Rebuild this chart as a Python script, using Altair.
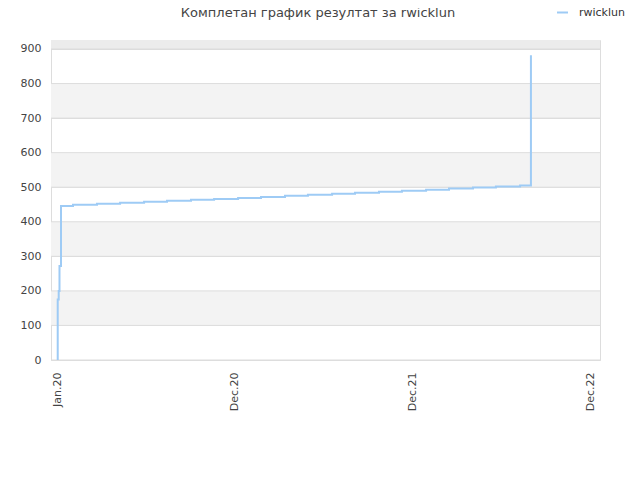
import altair as alt
import pandas as pd

# x positions in "label interval" units (0 = Jan.20, 1 = Dec.20, 2 = Dec.21, 3 = Dec.22)
x_pos = [0.004, 0.004, 0.0096, 0.014, 0.0225, 0.090, 0.225, 0.355, 0.490, 0.619,
         0.754, 0.884, 1.019, 1.148, 1.283, 1.412, 1.548, 1.677, 1.812, 1.941,
         2.077, 2.206, 2.341, 2.470, 2.606, 2.667, 2.667, 2.667, 2.667, 2.667, 2.667]
scores = [0, 175, 200, 272, 446, 449, 452, 455, 458, 461,
          464, 466, 469, 472, 475, 478, 481, 484, 487, 490,
          493, 496, 499, 502, 505, 562, 619, 682, 744, 812, 882]
series_name = "rwicklun"

tick_values = [0, 1, 2, 3]
tick_labels = ["Jan.20", "Dec.20", "Dec.21", "Dec.22"]
y_ticks = [0, 100, 200, 300, 400, 500, 600, 700, 800, 900]

band_lo = [100, 300, 500, 700, 900]
band_hi = [200, 400, 600, 800, 1000]
band_shade = ["a", "a", "a", "a", "b"]

title_text = "Комплетан график резултат за rwicklun"

df = pd.DataFrame({"x": x_pos, "y": scores, "i": list(range(len(x_pos))),
                   "s": [series_name] * len(x_pos)})
bands = pd.DataFrame({"y": band_lo, "y2": band_hi, "c": band_shade})
titles = pd.DataFrame({"t": [title_text]})

x_scale = alt.Scale(domain=[-0.0338, 3.0557], nice=False, zero=False)
y_scale = alt.Scale(domain=[0, 926], nice=False)

label_expr = " : ".join(
    f"datum.value == {v} ? '{l}'" for v, l in zip(tick_values, tick_labels)
) + " : ''"

x_axis = alt.Axis(values=tick_values, labelExpr=label_expr, labelAngle=270,
                  title=None, grid=False, ticks=False, domain=False,
                  labelFontSize=11, labelColor="#444", labelPadding=12,
                  labelFont="DejaVu Sans", labelOverlap=False)
y_axis = alt.Axis(values=y_ticks, tickCount=10,
                  title=None, grid=True, gridColor="#dddddd", ticks=False,
                  domain=False, labelFontSize=11, labelColor="#444",
                  labelPadding=10, labelFont="DejaVu Sans", labelOverlap=False,
                  zindex=0)

band_layer = alt.Chart(bands).mark_rect(clip=True).encode(
    y=alt.Y("y:Q", scale=y_scale, axis=y_axis),
    y2="y2:Q",
    x=alt.value(0),
    x2=alt.value(549),
    color=alt.Color("c:N", scale=alt.Scale(domain=["a", "b"], range=["#f3f3f3", "#ececec"]),
                    legend=None),
)

grid_layer = alt.Chart(pd.DataFrame({"y": y_ticks})).mark_rule(
    color="#dddddd", strokeWidth=1
).encode(y=alt.Y("y:Q", scale=y_scale, axis=y_axis), x=alt.value(0), x2=alt.value(549))

line_layer = alt.Chart(df).mark_line(interpolate="step-after", strokeWidth=2, clip=True).encode(
    x=alt.X("x:Q", scale=x_scale, axis=x_axis),
    y=alt.Y("y:Q", scale=y_scale, axis=y_axis),
    order="i:Q",
    color=alt.Color("s:N", scale=alt.Scale(range=["#9ecbf5"]),
                    legend=alt.Legend(title=None, orient="none", legendX=505, legendY=-34,
                                      symbolType="stroke", symbolStrokeWidth=2,
                                      symbolSize=120, labelFontSize=11, labelOffset=10,
                                      labelColor="#333", labelFont="DejaVu Sans")),
)

title_layer = alt.Chart(titles).mark_text(
    fontSize=13, color="#444", font="DejaVu Sans", align="center", baseline="bottom"
).encode(text="t:N", x=alt.value(267), y=alt.value(-20))

chart = alt.layer(band_layer, grid_layer, line_layer, title_layer).resolve_scale(
    color="independent"
).properties(
    width=549,
    height=320,
    autosize=alt.AutoSizeParams(type="none"),
    padding={"left": 43, "top": 32, "right": 32, "bottom": 112},
).configure_view(stroke="#dddddd", strokeWidth=1).configure(background="white")

chart.save("out.html", embed_options={"renderer": "svg", "actions": False})
